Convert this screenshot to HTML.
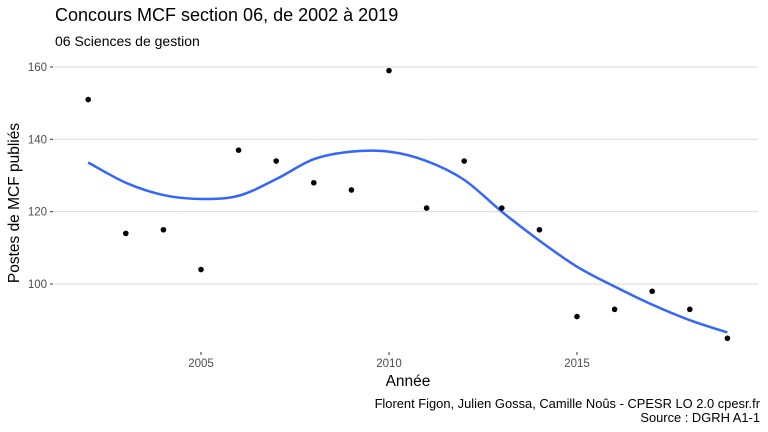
<!DOCTYPE html>
<html><head><meta charset="utf-8"><style>
body{margin:0;background:#fff;}
svg{display:block;font-family:"Liberation Sans",sans-serif;}
</style></head><body>
<svg width="768" height="432">
<text x="55" y="21" font-size="18" fill="#000">Concours MCF section 06, de 2002 à 2019</text>
<text x="55" y="46" font-size="14" fill="#000">06 Sciences de gestion</text>
<g id="grid"></g>
<g id="yticks"></g>
<g id="xticks"></g>
<path id="smooth" fill="none" stroke="#3366ff" stroke-width="2.5"/>
<g id="pts"></g>
<text x="408" y="386" font-size="15.5" text-anchor="middle">Année</text>
<text transform="translate(19,203) rotate(-90)" font-size="15.5" text-anchor="middle">Postes de MCF publiés</text>
<text x="760" y="408" font-size="12.9" text-anchor="end">Florent Figon, Julien Gossa, Camille Noûs - CPESR LO 2.0 cpesr.fr</text>
<text x="760" y="422" font-size="12.9" text-anchor="end">Source : DGRH A1-1</text>
</svg>
<script>
const years=[2002,2003,2004,2005,2006,2007,2008,2009,2010,2011,2012,2013,2014,2015,2016,2017,2018,2019];
const postes=[151,114,115,104,137,134,128,126,159,121,134,121,115,91,93,98,93,85];
const smoothVals=[133.6,128,124.6,123.5,124.4,129,134.5,136.6,136.6,134,128.8,120,112,104.8,99.3,94.3,90,86.6];
const yTicks=[100,120,140,160];
const xTicks=[2005,2010,2015];
const NS="http://www.w3.org/2000/svg";
const X=v=>201+(v-2005)*37.6;
const Y=v=>67+(160-v)*3.617;
function mk(t,a,p){const e=document.createElementNS(NS,t);for(const k in a)e.setAttribute(k,a[k]);p.appendChild(e);return e;}
const grid=document.getElementById('grid'),yt=document.getElementById('yticks'),xt=document.getElementById('xticks'),pts=document.getElementById('pts');
yTicks.forEach(v=>{
 const l=mk('line',{x1:54,x2:758,y1:Y(v),y2:Y(v),stroke:'#d9d9d9','stroke-width':1},grid);
 
 
 mk('line',{x1:50,x2:53,y1:Y(v),y2:Y(v),stroke:'#333'},yt);
 const t=mk('text',{x:47,y:Y(v)+4,'font-size':11.5,fill:'#4d4d4d','text-anchor':'end'},yt);t.textContent=v;
 
 
});
xTicks.forEach(v=>{
 mk('line',{x1:X(v),x2:X(v),y1:352,y2:355,stroke:'#333'},xt);
 const t=mk('text',{x:X(v),y:367,'font-size':11.5,fill:'#4d4d4d','text-anchor':'middle'},xt);t.textContent=v;
 
 
});
years.forEach((yr,i)=>{
 const c=mk('circle',{cx:X(yr),cy:Y(postes[i]),r:2.8,fill:'#000'},pts);
 
 
});
const P=years.map((yr,i)=>[X(yr),Y(smoothVals[i])]);
let d='M'+P[0][0]+','+P[0][1];
for(let i=0;i<P.length-1;i++){
 const p0=P[Math.max(0,i-1)],p1=P[i],p2=P[i+1],p3=P[Math.min(P.length-1,i+2)];
 const c1=[p1[0]+(p2[0]-p0[0])/6,p1[1]+(p2[1]-p0[1])/6],c2=[p2[0]-(p3[0]-p1[0])/6,p2[1]-(p3[1]-p1[1])/6];
 d+=' C'+c1+' '+c2+' '+p2;
}
document.getElementById('smooth').setAttribute('d',d);
</script>
</body></html>
